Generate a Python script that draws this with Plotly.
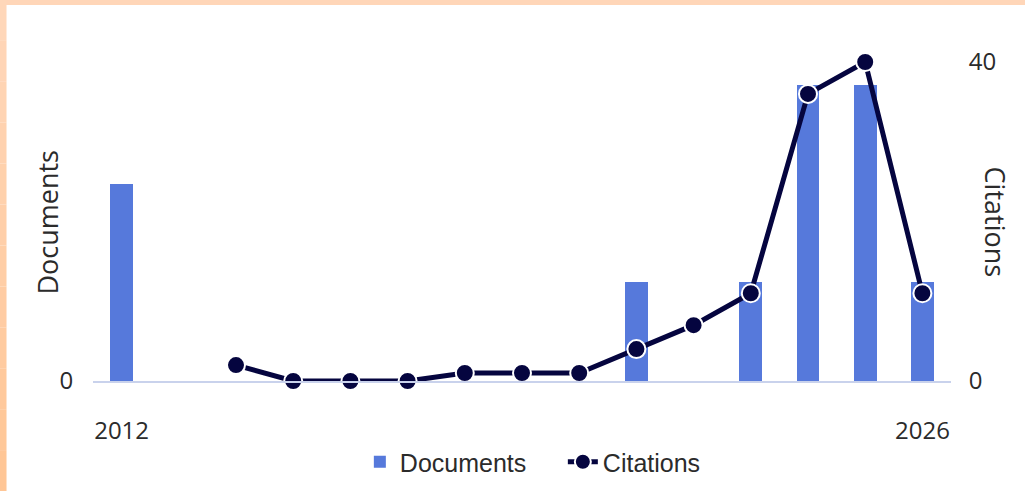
import plotly.graph_objects as go

years = list(range(2012, 2027))
documents = [2, 0, 0, 0, 0, 0, 0, 0, 0, 1, 0, 1, 3, 3, 1]
cit_years = list(range(2014, 2027))
citations = [2, 0, 0, 0, 1, 1, 1, 4, 7, 11, 36, 40, 11]
x_ticks = [2012, 2026]
doc_ticks = [0]
cit_ticks = [0, 40]

W, H = 1025, 491
L, R, T, B = 93.4, 74.4, 62, 110
pw, ph = W - L - R, H - T - B

def px_x(p):
    return (p - L) / pw

def px_y(p):
    return (H - B - p) / ph

bar_x = [y for y, d in zip(years, documents) if d > 0]
bar_y = [d for d in documents if d > 0]

fig = go.Figure()
fig.add_trace(go.Bar(
    x=bar_x, y=bar_y, name="Documents", width=0.4,
    marker=dict(color="#5679DB", line=dict(width=0)),
    yaxis="y", showlegend=True,
))
fig.add_trace(go.Scatter(
    x=cit_years, y=citations, name="Citations", mode="lines+markers",
    line=dict(color="#05053F", width=5),
    marker=dict(size=18, color="#05053F", line=dict(color="white", width=2)),
    yaxis="y2", cliponaxis=False,
))

shapes = []
shapes.append(dict(type="rect", xref="paper", yref="paper",
                   x0=px_x(0), x1=px_x(W), y0=px_y(5), y1=px_y(0),
                   fillcolor="#FFD6B8", line=dict(width=0), layer="below"))
n = 12
c0 = (255, 215, 185)
c1 = (255, 198, 150)
for i in range(n):
    t = i / (n - 1)
    col = tuple(round(c0[k] + (c1[k] - c0[k]) * t) for k in range(3))
    y0p = H * i / n
    y1p = H * (i + 1) / n
    shapes.append(dict(type="rect", xref="paper", yref="paper",
                       x0=px_x(0), x1=px_x(7), y0=px_y(y1p), y1=px_y(y0p),
                       fillcolor="rgb(%d,%d,%d)" % col, line=dict(width=0), layer="below"))

tick_font = dict(family="Open Sans", size=24, color="#2B2B2B")
title_font = dict(family="Open Sans", size=27, color="#2B2B2B")

fig.update_layout(
    width=W, height=H,
    margin=dict(l=L, r=R, t=T, b=B, autoexpand=False),
    paper_bgcolor="white", plot_bgcolor="white",
    showlegend=True,
    bargap=0,
    xaxis=dict(range=[2011.5, 2026.5], tickvals=x_ticks, ticktext=[str(v) for v in x_ticks],
               showgrid=False, zeroline=False, showline=True, linecolor="#C9D2EC", linewidth=2,
               ticks="outside", ticklen=27, tickcolor="rgba(0,0,0,0)", tickfont=tick_font,
               automargin=False),
    yaxis=dict(range=[0, 3.233], tickvals=doc_ticks, showgrid=False, zeroline=False,
               showline=False, ticks="outside", ticklen=14, tickcolor="rgba(0,0,0,0)",
               tickfont=tick_font, automargin=False),
    yaxis2=dict(range=[0, 40], tickvals=cit_ticks, overlaying="y", side="right",
                showgrid=False, zeroline=False, showline=False, ticks="outside", ticklen=12,
                tickcolor="rgba(0,0,0,0)", tickfont=tick_font, automargin=False),
    legend=dict(orientation="h", x=px_x(360), xanchor="left", y=px_y(462), yanchor="middle",
                entrywidth=158, entrywidthmode="pixels",
                font=dict(family="Liberation Sans", size=25, color="#2B2B2B"),
                bgcolor="rgba(0,0,0,0)"),
    shapes=shapes,
    annotations=[
        dict(text="Documents", xref="paper", yref="paper", x=px_x(48), y=px_y(222),
             showarrow=False, textangle=-90, font=title_font, xanchor="center", yanchor="middle"),
        dict(text="Citations", xref="paper", yref="paper", x=px_x(995), y=px_y(222),
             showarrow=False, textangle=90, font=title_font, xanchor="center", yanchor="middle"),
    ],
)

fig.write_html("out.html", config={"displayModeBar": False},
               post_script="document.body.style.margin='0';document.body.style.overflow='hidden';")
